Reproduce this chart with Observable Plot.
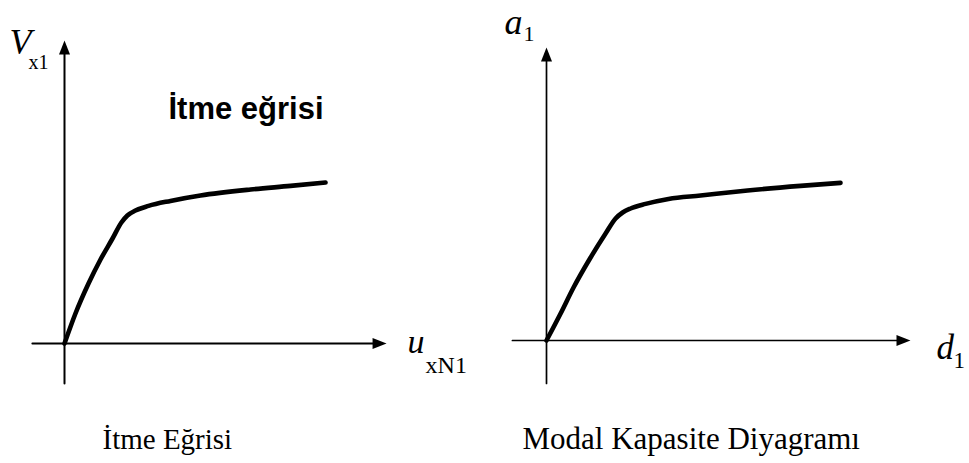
<!DOCTYPE html>
<html><head><meta charset="utf-8">
<script src="https://cdn.jsdelivr.net/npm/d3@7"></script>
<script src="https://cdn.jsdelivr.net/npm/@observablehq/plot@0.6"></script>
<style>
html,body{margin:0;padding:0;background:#fff;}
#wrap{position:relative;width:969px;height:463px;overflow:hidden;background:#fff;}
#wrap svg{position:absolute;top:0;overflow:visible;background:transparent;}
</style></head><body><div id="wrap"></div>
<script>
// ---- data (schematic units) ----
const pushoverU = [0, 0.42, 0.92, 1.38, 1.84, 2.18, 2.41, 2.72, 3.22, 4.06, 5.21, 7.13, 8.66, 10.0];
const pushoverV = [0, 1.5, 3.0, 4.2, 5.25, 6.05, 6.4, 6.65, 6.88, 7.13, 7.4, 7.7, 7.88, 8.05];
const spectralD = [0, 0.48, 0.92, 1.5, 2.01, 2.35, 2.59, 2.86, 3.37, 4.15, 5.24, 6.84, 8.64, 10.0];
const spectralA = [0, 1.35, 2.65, 4.15, 5.35, 6.1, 6.4, 6.6, 6.83, 7.08, 7.25, 7.5, 7.73, 7.88];
const leftAxisX = [-1.23, 12.34];
const leftAxisY = [-2.0, 15.15];
const rightAxisX = [-1.16, 12.38];
const rightAxisY = [-2.15, 14.65];
const leftLabels = ["V", "x1", "u", "xN1"];
const rightLabels = ["a", "1", "d", "1"];
const curveLabel = "İtme eğrisi";
const captions = ["İtme Eğrisi", "Modal Kapasite Diyagramı"];

const serif = "'Liberation Serif','Times New Roman',serif";
const sans = "'Liberation Sans',Arial,sans-serif";

// filled arrow head, tip at origin, pointing up
const headSymbol = {draw(ctx) { ctx.moveTo(0, 0); ctx.lineTo(-5.5, 14); ctx.lineTo(5.5, 14); ctx.closePath(); }};

function panel({xs, ys, ax, ay, width, margins, axisWidth, labels, extra}) {
  const curve = xs.map((x, i) => ({x, y: ys[i]}));
  const axes = [
    {x1: ax[0], y1: 0, x2: ax[1], y2: 0},
    {x1: 0, y1: ay[0], x2: 0, y2: ay[1]}
  ];
  const tips = [{x: ax[1], y: 0, r: 90}, {x: 0, y: ay[1], r: 0}];
  return Plot.plot({
    width, height: 463,
    ...margins,
    x: {domain: [0, 10], axis: null},
    y: {domain: [0, 10], axis: null},
    style: {background: "transparent", overflow: "visible"},
    marks: [
      Plot.arrow(axes, {x1: "x1", y1: "y1", x2: "x2", y2: "y2", headLength: 0, insetEnd: 8, stroke: "#000", strokeWidth: axisWidth}),
      Plot.dot(tips, {x: "x", y: "y", rotate: "r", symbol: headSymbol, fill: "#000", stroke: "none"}),
      Plot.line(curve, {x: "x", y: "y", curve: "monotone-x", stroke: "#000", strokeWidth: 4.6, strokeLinejoin: "round"}),
      ...labels(tips),
      ...extra
    ]
  });
}

const left = panel({
  xs: pushoverU, ys: pushoverV, ax: leftAxisX, ay: leftAxisY, width: 484,
  margins: {marginLeft: 64, marginRight: 159, marginTop: 143, marginBottom: 120},
  axisWidth: 2,
  labels: (tips) => [
    Plot.text([tips[1]], {x: "x", y: "y", text: () => leftLabels[0], textAnchor: "start", lineAnchor: "bottom", dx: -55, dy: 13, fontFamily: serif, fontStyle: "italic", fontSize: 36, fill: "#000"}),
    Plot.text([tips[1]], {x: "x", y: "y", text: () => leftLabels[1], textAnchor: "start", lineAnchor: "bottom", dx: -36, dy: 28, fontFamily: serif, fontSize: 20, fill: "#000"}),
    Plot.text([tips[0]], {x: "x", y: "y", text: () => leftLabels[2], textAnchor: "start", lineAnchor: "bottom", dx: 21, dy: 9, fontFamily: serif, fontStyle: "italic", fontSize: 34, fill: "#000"}),
    Plot.text([tips[0]], {x: "x", y: "y", text: () => leftLabels[3], textAnchor: "start", lineAnchor: "bottom", dx: 39, dy: 29, fontFamily: serif, fontSize: 24, fill: "#000"})
  ],
  extra: [
    Plot.text([curveLabel], {frameAnchor: "top-left", text: d => d, textAnchor: "start", lineAnchor: "bottom", dx: 104, dy: -25, fontFamily: sans, fontWeight: "bold", fontSize: 31, fill: "#000"}),
    Plot.text([captions[0]], {frameAnchor: "bottom-left", text: d => d, textAnchor: "start", lineAnchor: "bottom", dx: 38, dy: 105, fontFamily: serif, fontSize: 29, fill: "#000"})
  ]
});

const right = panel({
  xs: spectralD, ys: spectralA, ax: rightAxisX, ay: rightAxisY, width: 485,
  margins: {marginLeft: 62, marginRight: 129, marginTop: 140, marginBottom: 123},
  axisWidth: 1.7,
  labels: (tips) => [
    Plot.text([tips[1]], {x: "x", y: "y", text: () => rightLabels[0], textAnchor: "start", lineAnchor: "bottom", dx: -42, dy: -14, fontFamily: serif, fontStyle: "italic", fontSize: 36, fill: "#000"}),
    Plot.text([tips[1]], {x: "x", y: "y", text: () => rightLabels[1], textAnchor: "start", lineAnchor: "bottom", dx: -23, dy: -7, fontFamily: serif, fontSize: 22, fill: "#000"}),
    Plot.text([tips[0]], {x: "x", y: "y", text: () => rightLabels[2], textAnchor: "start", lineAnchor: "bottom", dx: 26, dy: 18, fontFamily: serif, fontStyle: "italic", fontSize: 35, fill: "#000"}),
    Plot.text([tips[0]], {x: "x", y: "y", text: () => rightLabels[3], textAnchor: "start", lineAnchor: "bottom", dx: 43, dy: 27, fontFamily: serif, fontSize: 23, fill: "#000"})
  ],
  extra: [
    Plot.text([captions[1]], {frameAnchor: "bottom-left", text: d => d, textAnchor: "start", lineAnchor: "bottom", dx: -24, dy: 108, fontFamily: serif, fontSize: 31, fill: "#000"})
  ]
});

left.style.left = "0px";
right.style.left = "484px";
document.getElementById("wrap").append(left, right);
</script></body></html>
